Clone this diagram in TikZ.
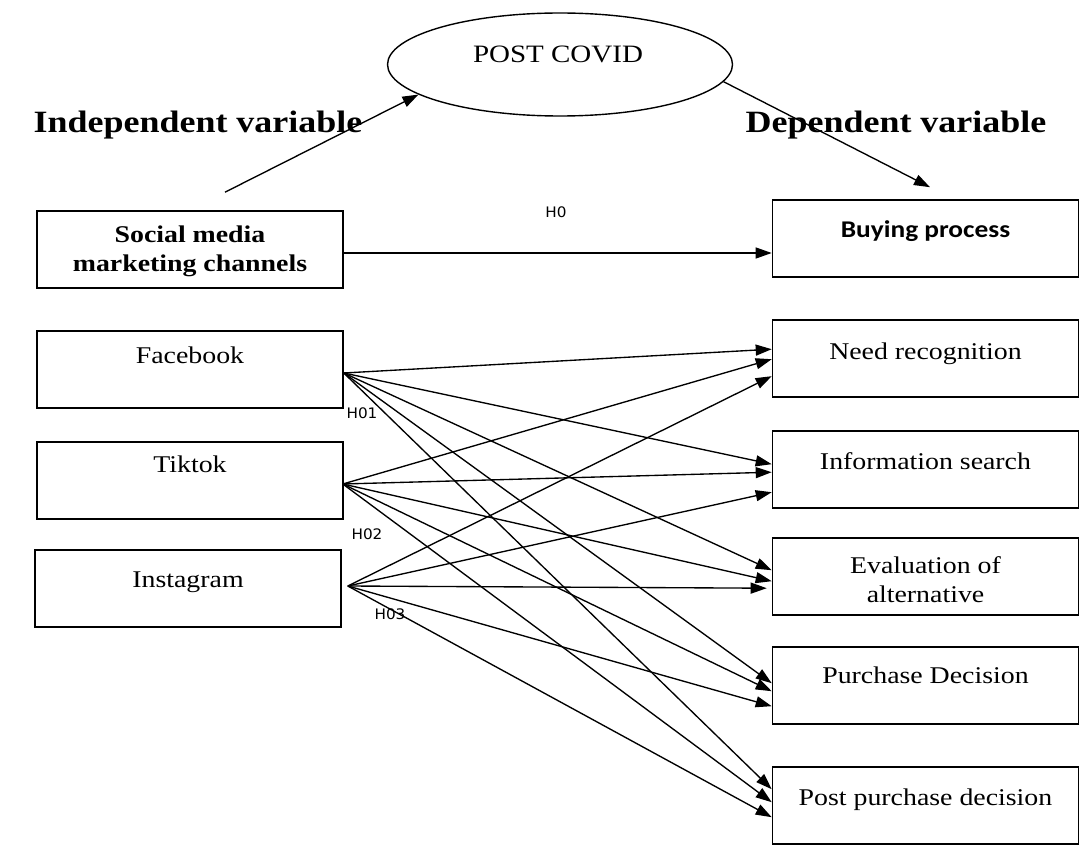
\documentclass[tikz,border=0pt]{standalone}
\usepackage{fontspec}
\setmainfont{Liberation Serif}[FakeStretch=1.16]
\newfontfamily\calibrifont{Carlito}[FakeStretch=1.14]
\newfontfamily\hypfont{DejaVu Sans}[FakeStretch=1.05]
\usetikzlibrary{arrows.meta,shapes.geometric,calc}

\tikzset{
  box/.style={draw,line width=1.6pt,minimum width=306pt,minimum height=77pt,inner sep=0pt},
  arr/.style={line width=1.35pt,-{Triangle[length=16pt,width=11pt]}},
  txt/.style={anchor=base,inner sep=0pt,font=\fontsize{24}{29}\selectfont},
  hyp/.style={inner sep=0pt,font=\hypfont\fontsize{14.5}{16}\selectfont},
  head/.style={anchor=base,inner sep=0pt,font=\fontsize{31}{36}\selectfont\bfseries},
}

\begin{document}
\begin{tikzpicture}[x=1pt,y=-1pt]
\useasboundingbox (0,0) rectangle (1081,845);
% moderator and headings
\node[ellipse,draw,line width=1.4pt,minimum width=345pt,minimum height=103pt,inner sep=0pt] (covid) at (560,64.5) {};
\node[txt,font=\fontsize{25}{30}\selectfont] (covidtxt) at (558,63) {POST COVID};
\node[head] (indep) at (198,133) {Independent variable};
\node[head] (dep) at (896,133) {Dependent variable};

% independent side
\node[box] (social) at (190,249.5) {};
\node[txt,align=center,font=\fontsize{24}{29}\selectfont\bfseries] (socialtxt) at (190,271) {Social media\\marketing channels};
\node[box] (fb) at (190,369.5) {};
\node[txt] (fbtxt) at (190,363) {Facebook};
\node[box] (tt) at (190,480.5) {};
\node[txt] (tttxt) at (190,472) {Tiktok};
\node[box] (ig) at (188,588.5) {};
\node[txt] (igtxt) at (188,587) {Instagram};

% dependent side
\node[box] (buy) at (925.5,238.5) {};
\node[txt,font=\calibrifont\fontsize{24}{29}\selectfont\bfseries] (buytxt) at (925.5,237) {Buying process};
\node[box] (need) at (925.5,358.5) {};
\node[txt] (needtxt) at (925.5,359) {Need recognition};
\node[box] (info) at (925.5,469.5) {};
\node[txt] (infotxt) at (925.5,469) {Information search};
\node[box] (eval) at (925.5,576.5) {};
\node[txt,align=center] (evaltxt) at (925.5,602) {Evaluation of\\alternative};
\node[box] (pur) at (925.5,685.5) {};
\node[txt] (purtxt) at (925.5,683) {Purchase Decision};
\node[box] (post) at (925.5,805.5) {};
\node[txt] (posttxt) at (925.5,805) {Post purchase decision};

% hypotheses
\node[hyp] (h0) at (556,212) {H0};
\node[hyp] (h01) at (362,413) {H01};
\node[hyp] (h02) at (367,534) {H02};
\node[hyp] (h03) at (390,614) {H03};

% connectors
\draw[arr] ($(social.north)+(35,-18)$) -- (covid.192);
\draw[arr] (covid.-6) -- ($(buy.north)+(4.5,-12)$);
\coordinate (h0s) at ($(social.east)+(0,3.5)$);
\draw[arr] (h0s) -- (h0s -| buy.west);

\coordinate (fbout) at ($(fb.east)+(0,3.5)$);
\coordinate (ttout) at ($(tt.east)+(-1,3.5)$);
\coordinate (igout) at ($(ig.east)+(6,-2.5)$);
\foreach \src/\dst/\dx/\dy in {fbout/need/0/30, ttout/need/0/40, igout/need/0/57,
    fbout/info/0/34, ttout/info/0/42, igout/info/0/62,
    fbout/eval/0/33, ttout/eval/0/44, igout/eval/-5/51,
    fbout/pur/0/37, ttout/pur/0/45, igout/pur/0/60,
    fbout/post/0/23, ttout/post/0/36, igout/post/0/51}
  \draw[arr] (\src) -- ($(\dst.north west)+(\dx,\dy)$);
\end{tikzpicture}
\end{document}
